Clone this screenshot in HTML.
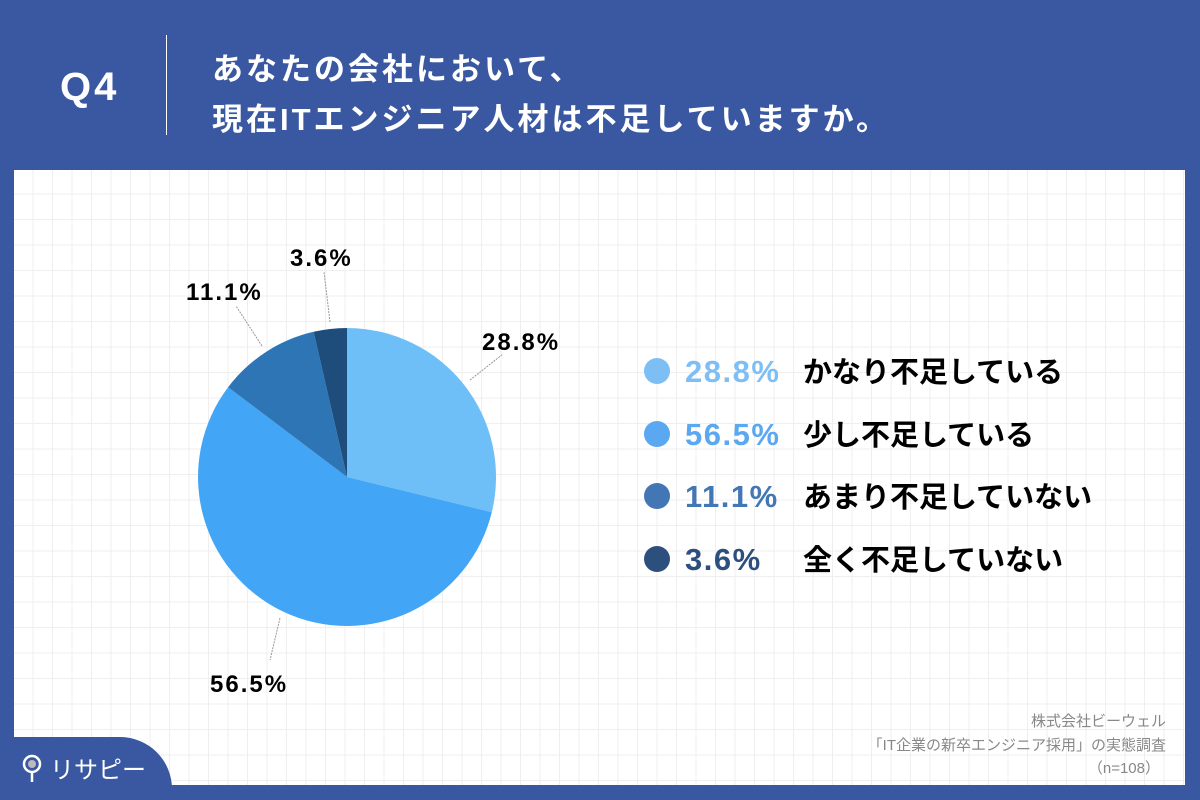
<!DOCTYPE html>
<html><head><meta charset="utf-8"><style>
*{margin:0;padding:0;box-sizing:border-box}
body{width:1200px;height:800px;background:#3a58a1;position:relative;overflow:hidden;font-family:"Liberation Sans","Noto Sans CJK JP",sans-serif}
.panel{position:absolute;left:14px;top:170px;width:1171px;height:615px;background-color:#fff;
background-image:linear-gradient(to right,#efefef 1px,transparent 1px),linear-gradient(to bottom,#efefef 1px,transparent 1px);
background-size:19.5px 25.5px;background-position:-1px -2px}
.t{position:absolute;white-space:nowrap}
</style></head><body>
<div class="t" style="left:60px;top:65px;font-size:40px;font-weight:bold;color:#fff;letter-spacing:3px">Q4</div>
<div style="position:absolute;left:166px;top:35px;width:1px;height:100px;background:#fff"></div>
<div class="t" style="left:212px;top:45px;font-size:31px;font-weight:bold;color:#fff;line-height:50px;letter-spacing:3px">あなたの会社において、<br>現在ITエンジニア人材は不足していますか。</div>
<div class="panel"></div>
<svg style="position:absolute;left:0;top:0" width="1200" height="800">
<path d="M347,477 L347,328 A149,149 0 0 1 491.8,512.2 Z" fill="#6ebff8"/>
<path d="M347,477 L491.8,512.2 A149,149 0 1 1 228.1,387.2 Z" fill="#42a5f5"/>
<path d="M347,477 L228.1,387.2 A149,149 0 0 1 313.6,331.8 Z" fill="#2e75b6"/>
<path d="M347,477 L313.6,331.8 A149,149 0 0 1 347,328 Z" fill="#1e4d7c"/>
<g stroke="#999" stroke-width="1" stroke-dasharray="2,1">
<line x1="470" y1="380" x2="503" y2="354"/>
<line x1="330" y1="322" x2="324" y2="272"/>
<line x1="262" y1="346" x2="236" y2="306"/>
<line x1="280" y1="618" x2="270" y2="660"/>
</g>
<g font-family="Liberation Sans, sans-serif" font-weight="bold" font-size="24" fill="#000" letter-spacing="2">
<text x="482" y="350">28.8%</text>
<text x="290" y="266">3.6%</text>
<text x="186" y="300">11.1%</text>
<text x="210" y="692">56.5%</text>
</g>
<circle cx="657" cy="371" r="13" fill="#7dbff5"/>
<circle cx="657" cy="434" r="13" fill="#5aa7f2"/>
<circle cx="657" cy="496" r="13" fill="#4276b4"/>
<circle cx="657" cy="559" r="13" fill="#2d4f7e"/>
<g font-family="Liberation Sans, sans-serif" font-weight="bold" font-size="31" letter-spacing="1.5">
<text x="685" y="382" fill="#7dbff5">28.8%</text>
<text x="685" y="445" fill="#5aa7f2">56.5%</text>
<text x="685" y="507" fill="#4276b4">11.1%</text>
<text x="685" y="570" fill="#2d4f7e">3.6%</text>
</g>
<g font-family="Liberation Sans, Noto Sans CJK JP, sans-serif" font-weight="bold" font-size="29" fill="#000">
<text x="803" y="382">かなり不足している</text>
<text x="803" y="445">少し不足している</text>
<text x="803" y="507">あまり不足していない</text>
<text x="803" y="570">全く不足していない</text>
</g>
<g font-family="Liberation Sans, Noto Sans CJK JP, sans-serif" font-size="15" fill="#888" text-anchor="end">
<text x="1166" y="726">株式会社ビーウェル</text>
<text x="1166" y="750">「IT企業の新卒エンジニア採用」の実態調査</text>
<text x="1160" y="773">（n=108）</text>
</g>
<path d="M0,737 L120,737 A52,52 0 0 1 172,789 L172,800 L0,800 Z" fill="#3a58a1"/>
<rect x="0" y="785" width="1200" height="15" fill="#3a58a1"/>
<circle cx="32" cy="764" r="8" fill="none" stroke="#fff" stroke-width="2.5"/>
<circle cx="32" cy="764" r="4" fill="#bbb"/>
<line x1="32" y1="772" x2="32" y2="782" stroke="#fff" stroke-width="2.5"/>
<text x="50" y="778" font-family="Liberation Sans, Noto Sans CJK JP, sans-serif" font-size="24" fill="#fff">リサピー</text>
</svg>
</body></html>
